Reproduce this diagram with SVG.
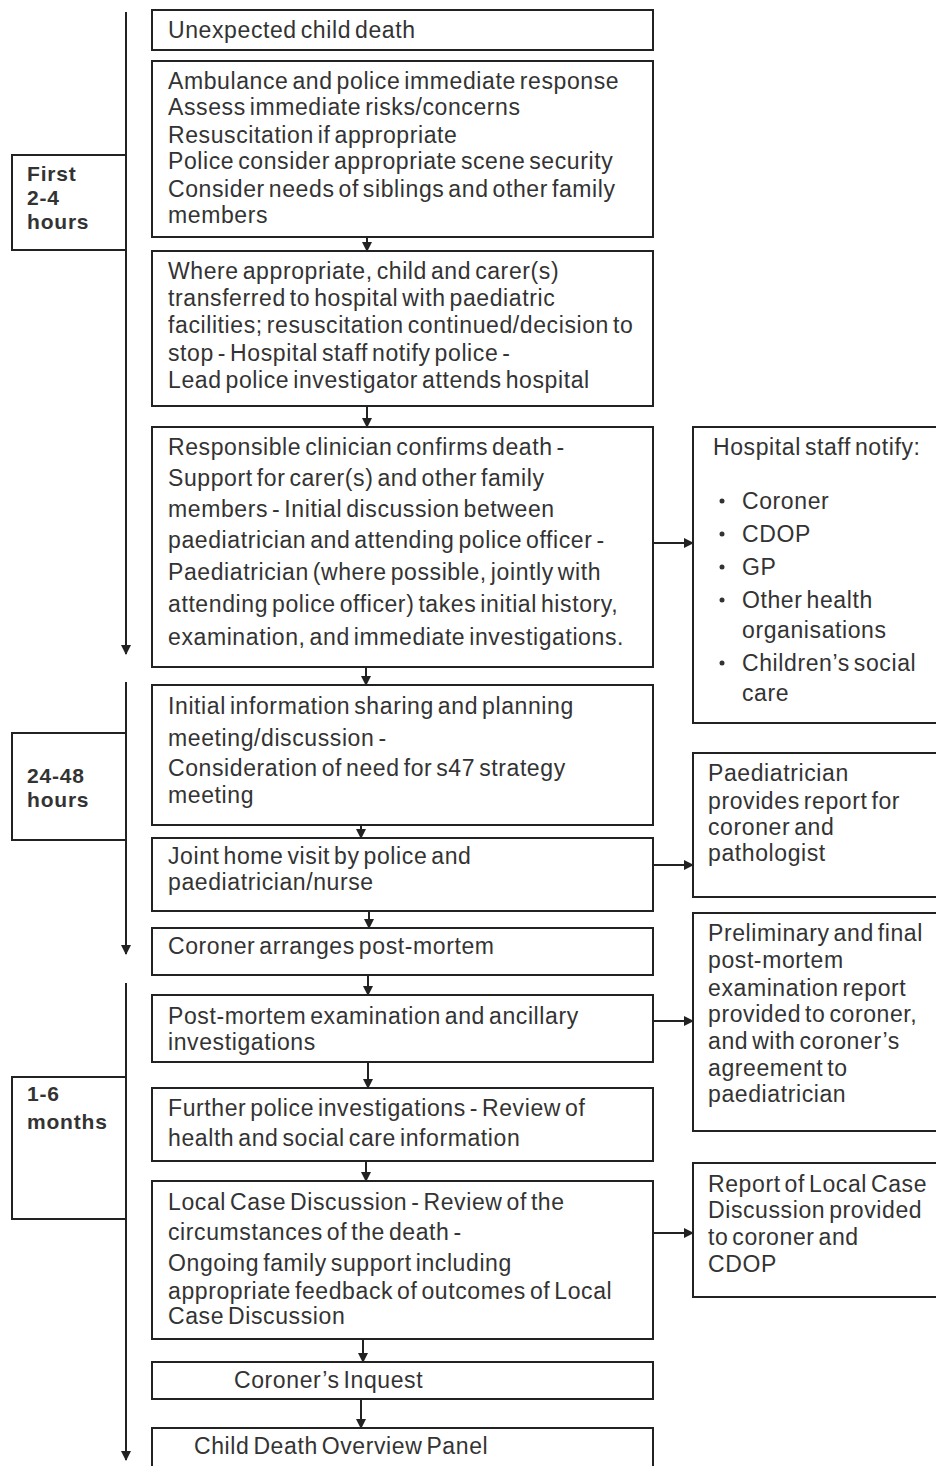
<svg xmlns="http://www.w3.org/2000/svg" width="936" height="1466" viewBox="0 0 936 1466">
<style>
.b{fill:#fff;stroke:#222;stroke-width:2}
.t{font-family:"Liberation Sans",Arial,sans-serif;font-size:23px;letter-spacing:0.6px;word-spacing:-3px;fill:#333}
.l{font-family:"Liberation Sans",Arial,sans-serif;font-size:21px;letter-spacing:0.8px;font-weight:bold;fill:#333}
.c{stroke:#222;stroke-width:2;fill:none}
</style>
<defs>
<marker id="a" markerWidth="10" markerHeight="10" refX="9" refY="5" orient="auto" markerUnits="userSpaceOnUse"><path d="M0,0 L10,5 L0,10 z" fill="#222"/></marker>
</defs>
<rect width="936" height="1466" fill="#fff"/>
<g id="connectors">
<line class="c" x1="126" y1="12" x2="126" y2="654" marker-end="url(#a)"/>
<line class="c" x1="126" y1="682" x2="126" y2="954" marker-end="url(#a)"/>
<line class="c" x1="126" y1="983" x2="126" y2="1460" marker-end="url(#a)"/>
<line class="c" x1="367" y1="237" x2="367" y2="251" marker-end="url(#a)"/>
<line class="c" x1="367" y1="406" x2="367" y2="427" marker-end="url(#a)"/>
<line class="c" x1="366" y1="667" x2="366" y2="685" marker-end="url(#a)"/>
<line class="c" x1="361" y1="825" x2="361" y2="838" marker-end="url(#a)"/>
<line class="c" x1="369" y1="911" x2="369" y2="928" marker-end="url(#a)"/>
<line class="c" x1="368" y1="975" x2="368" y2="995" marker-end="url(#a)"/>
<line class="c" x1="368" y1="1062" x2="368" y2="1088" marker-end="url(#a)"/>
<line class="c" x1="366" y1="1161" x2="366" y2="1181" marker-end="url(#a)"/>
<line class="c" x1="363" y1="1339" x2="363" y2="1362" marker-end="url(#a)"/>
<line class="c" x1="361" y1="1399" x2="361" y2="1428" marker-end="url(#a)"/>
<line class="c" x1="653" y1="543" x2="693" y2="543" marker-end="url(#a)"/>
<line class="c" x1="653" y1="865" x2="693" y2="865" marker-end="url(#a)"/>
<line class="c" x1="653" y1="1021" x2="693" y2="1021" marker-end="url(#a)"/>
<line class="c" x1="653" y1="1233" x2="693" y2="1233" marker-end="url(#a)"/>
</g>
<g id="period1"><rect class="b" x="12" y="155" width="114" height="95"/>
<text class="l" x="27" y="181">First</text><text class="l" x="27" y="205">2-4</text><text class="l" x="27" y="229">hours</text></g>
<g id="period2"><rect class="b" x="12" y="733" width="114" height="107"/>
<text class="l" x="27" y="783">24-48</text><text class="l" x="27" y="807">hours</text></g>
<g id="period3"><rect class="b" x="12" y="1077" width="114" height="142"/>
<text class="l" x="27" y="1101">1-6</text><text class="l" x="27" y="1129">months</text></g>
<g id="n1"><rect class="b" x="152" y="10" width="501" height="40"/>
<text class="t" x="168" y="38">Unexpected child death</text></g>
<g id="n2"><rect class="b" x="152" y="61" width="501" height="176"/>
<text class="t" x="168" y="89">Ambulance and police immediate response</text>
<text class="t" x="168" y="115">Assess immediate risks/concerns</text>
<text class="t" x="168" y="143">Resuscitation if appropriate</text>
<text class="t" x="168" y="169">Police consider appropriate scene security</text>
<text class="t" x="168" y="197">Consider needs of siblings and other family</text>
<text class="t" x="168" y="223">members</text></g>
<g id="n3"><rect class="b" x="152" y="251" width="501" height="155"/>
<text class="t" x="168" y="279">Where appropriate, child and carer(s)</text>
<text class="t" x="168" y="306">transferred to hospital with paediatric</text>
<text class="t" x="168" y="333">facilities; resuscitation continued/decision to</text>
<text class="t" x="168" y="361">stop - Hospital staff notify police -</text>
<text class="t" x="168" y="388">Lead police investigator attends hospital</text></g>
<g id="n4"><rect class="b" x="152" y="427" width="501" height="240"/>
<text class="t" x="168" y="455">Responsible clinician confirms death -</text>
<text class="t" x="168" y="486">Support for carer(s) and other family</text>
<text class="t" x="168" y="517">members - Initial discussion between</text>
<text class="t" x="168" y="548">paediatrician and attending police officer -</text>
<text class="t" x="168" y="580">Paediatrician (where possible, jointly with</text>
<text class="t" x="168" y="612">attending police officer) takes initial history,</text>
<text class="t" x="168" y="645">examination, and immediate investigations.</text></g>
<g id="n5"><rect class="b" x="152" y="685" width="501" height="140"/>
<text class="t" x="168" y="714">Initial information sharing and planning</text>
<text class="t" x="168" y="746">meeting/discussion -</text>
<text class="t" x="168" y="776">Consideration of need for s47 strategy</text>
<text class="t" x="168" y="803">meeting</text></g>
<g id="n6"><rect class="b" x="152" y="838" width="501" height="73"/>
<text class="t" x="168" y="864">Joint home visit by police and</text>
<text class="t" x="168" y="890">paediatrician/nurse</text></g>
<g id="n7"><rect class="b" x="152" y="928" width="501" height="47"/>
<text class="t" x="168" y="954">Coroner arranges post-mortem</text></g>
<g id="n8"><rect class="b" x="152" y="995" width="501" height="67"/>
<text class="t" x="168" y="1024">Post-mortem examination and ancillary</text>
<text class="t" x="168" y="1050">investigations</text></g>
<g id="n9"><rect class="b" x="152" y="1088" width="501" height="73"/>
<text class="t" x="168" y="1116">Further police investigations - Review of</text>
<text class="t" x="168" y="1146">health and social care information</text></g>
<g id="n10"><rect class="b" x="152" y="1181" width="501" height="158"/>
<text class="t" x="168" y="1210">Local Case Discussion - Review of the</text>
<text class="t" x="168" y="1240">circumstances of the death -</text>
<text class="t" x="168" y="1271">Ongoing family support including</text>
<text class="t" x="168" y="1299">appropriate feedback of outcomes of Local</text>
<text class="t" x="168" y="1324">Case Discussion</text></g>
<g id="n11"><rect class="b" x="152" y="1362" width="501" height="37"/>
<text class="t" x="234" y="1388">Coroner’s Inquest</text></g>
<g id="n12"><rect class="b" x="152" y="1428" width="501" height="48"/>
<text class="t" x="194" y="1454">Child Death Overview Panel</text></g>
<g id="r1"><rect class="b" x="693" y="427" width="250" height="296"/>
<text class="t" x="713" y="455">Hospital staff notify:</text>
<g fill="#333"><circle cx="722" cy="501" r="2.5"/><circle cx="722" cy="534" r="2.5"/><circle cx="722" cy="567" r="2.5"/><circle cx="722" cy="600" r="2.5"/><circle cx="722" cy="663" r="2.5"/></g>
<text class="t" x="742" y="509">Coroner</text>
<text class="t" x="742" y="542">CDOP</text>
<text class="t" x="742" y="575">GP</text>
<text class="t" x="742" y="608">Other health</text>
<text class="t" x="742" y="638">organisations</text>
<text class="t" x="742" y="671">Children’s social</text>
<text class="t" x="742" y="701">care</text></g>
<g id="r2"><rect class="b" x="693" y="753" width="250" height="144"/>
<text class="t" x="708" y="781">Paediatrician</text>
<text class="t" x="708" y="809">provides report for</text>
<text class="t" x="708" y="835">coroner and</text>
<text class="t" x="708" y="861">pathologist</text></g>
<g id="r3"><rect class="b" x="693" y="913" width="250" height="218"/>
<text class="t" x="708" y="941">Preliminary and final</text>
<text class="t" x="708" y="968">post-mortem</text>
<text class="t" x="708" y="996">examination report</text>
<text class="t" x="708" y="1022">provided to coroner,</text>
<text class="t" x="708" y="1049">and with coroner’s</text>
<text class="t" x="708" y="1076">agreement to</text>
<text class="t" x="708" y="1102">paediatrician</text></g>
<g id="r4"><rect class="b" x="693" y="1163" width="250" height="134"/>
<text class="t" x="708" y="1192">Report of Local Case</text>
<text class="t" x="708" y="1218">Discussion provided</text>
<text class="t" x="708" y="1245">to coroner and</text>
<text class="t" x="708" y="1272">CDOP</text></g>
</svg>
